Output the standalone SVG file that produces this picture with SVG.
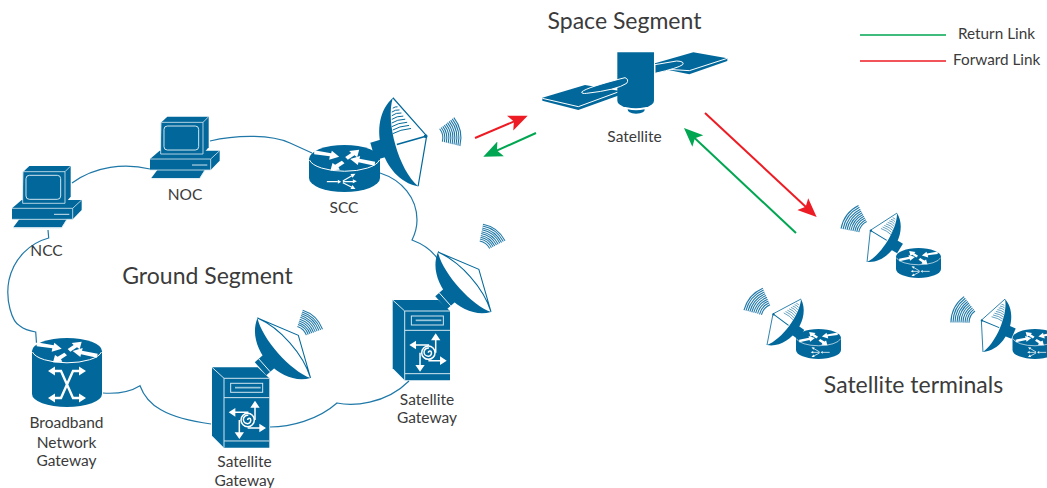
<svg xmlns="http://www.w3.org/2000/svg" xmlns:xlink="http://www.w3.org/1999/xlink" width="1047" height="488" viewBox="0 0 1047 488">
<style>
text{font-family:Lato,"Liberation Sans",sans-serif;fill:#3b3b3b;text-anchor:middle}
.lb{font-size:15.5px}.ti{font-size:23px}.lg{font-size:15.300px;text-anchor:start}
.bl{fill:#02689b}.wl{fill:none;stroke:#d3e6ef;stroke-width:3}.wf{fill:#fff}
.cloud{fill:none;stroke:#1f78a8;stroke-width:1.2}
.hl{fill:none;stroke:#02689b;stroke-width:1.200}
.red{stroke:#ed1c24;stroke-width:2;fill:none}.grn{stroke:#00a651;stroke-width:2;fill:none}
</style>
<defs>
<marker id="hr" markerUnits="userSpaceOnUse" markerWidth="22" markerHeight="22" refX="11" refY="10" orient="auto"><path d="M0,2 L19,10 L0,18 L4,10Z" fill="#ed1c24"/></marker>
<marker id="hg" markerUnits="userSpaceOnUse" markerWidth="22" markerHeight="22" refX="11" refY="10" orient="auto"><path d="M0,2 L19,10 L0,18 L4,10Z" fill="#00a651"/></marker>
<g id="wave" fill="none" stroke="#1f78a8" stroke-width="1.100">
<path d="M13.500,-6.600A15,15 0 0 1 13.500,6.600M15.300,-7.500A17,17 0 0 1 15.300,7.500M17.100,-8.300A19,19 0 0 1 17.100,8.300M18.900,-9.200A21,21 0 0 1 18.900,9.200M20.700,-10.100A23,23 0 0 1 20.700,10.100M22.500,-11A25,25 0 0 1 22.500,11M24.300,-11.800A27,27 0 0 1 24.300,11.800M26.100,-12.700A29,29 0 0 1 26.100,12.700M27.900,-13.600A31,31 0 0 1 27.900,13.600M29.700,-14.500A33,33 0 0 1 29.700,14.500"/>
</g>
<g id="dishA">
<rect class="bl" x="-34" y="-9" width="12" height="18"/>
<path class="bl" d="M0,-46C-33,-30 -33,30 0,46C-14,25 -14,-25 0,-46Z"/>
<path class="hl" d="M0,-46L22,0L0,46"/>
<path fill="none" stroke="#02689b" stroke-width=".9" d="M-3,-36Q0,-37 2,-36M-5,-32.500Q-1,-34 3,-32.500M-6,-29Q-1,-31 4,-29M-7,-25.500Q-1,-27.500 5,-25.500M-8,-22Q-2,-24 6,-22M-9,-18.500Q-2,-20.500 7,-18.500M-9,-15Q-2,-17 8,-15M-10,-11.500Q-2,-13.500 9,-11.500"/>
<path fill="none" stroke="#02689b" stroke-width="1.600" d="M22,0H-9"/>
<circle class="bl" cx="21" cy="0" r="1.800"/>
</g>
<g id="dishB">
<rect class="bl" x="-36" y="-10" width="14" height="20"/>
<path fill="none" stroke="#fff" stroke-width="1" d="M-30,-10V10"/>
<path class="bl" d="M0,-46C-33,-30 -33,30 0,46C-12,25 -12,-25 0,-46Z"/>
<path class="hl" d="M0,-46L22,0L0,46M0,-46C12,-20 12,20 0,46"/>
</g>
<g id="rtop" transform="scale(.3333)" class="wf">
<polygon points="-91,-26 -40,-17 -38,-25 -16,-7 -46,2 -44,-8 -91,-14"/>
<polygon points="44,-28 38,-5 30,-11 10,2 2,-6 20,-18 14,-24"/>
<polygon points="-42,34 -36,12 -28,17 -8,5 0,13 -18,25 -14,32"/>
<polygon points="17,0 47,-9 45,-1 92,8 90,20 42,10 40,18"/>
</g>
<g id="router">
<path class="bl" d="M-35.500,0A35.500,14 0 0 1 35.500,0V19A35.500,14 0 0 1 -35.500,19Z"/>
<path fill="none" stroke="#fff" stroke-width="1" d="M-35,1A35.500,13.500 0 0 0 35,1"/>
<use xlink:href="#rtop" href="#rtop"/>
<g transform="scale(.3333)">
<path fill="none" stroke="#fff" stroke-width="3.500" d="M-53,68H-20M-5,66L22,50M-5,68H26M-5,71L22,85"/>
<path class="wf" d="M-20,62L-10,68L-20,74ZM18,45L33,44L24,56ZM25,61L37,67L25,73ZM18,90L33,90L24,78Z"/>
</g>
</g>
<g id="pc" transform="scale(.3333)">
<path class="bl" d="M70,245L88,228H212V320L195,340H68Z"/>
<path class="bl" d="M36,355L65,330H245V360L218,388H36Z"/>
<path class="bl" d="M40,412L58,388H200L185,412Z"/>
<path fill="none" stroke="#d3e6ef" stroke-width="2.500" d="M70,245H195L212,228M195,245V340M68,245V340H195M36,355H218L245,330M218,355V388M36,388H218M40,414H185L200,390"/>
<rect x="78" y="256" width="104" height="72" rx="10" fill="none" stroke="#d3e6ef" stroke-width="3"/>
<path stroke="#d3e6ef" stroke-width="3" d="M162,373H208"/>
</g>
<g id="gw" transform="scale(.3333)">
<path class="bl" d="M-36,-33H101L136,0V208H0L-36,172Z"/>
<path fill="none" stroke="#d3e6ef" stroke-width="3" d="M-36,-33L0,0V208M0,0H136M0,58H136M0,188H136"/>
<rect x="20" y="15" width="96" height="27" fill="none" stroke="#d3e6ef" stroke-width="3"/>
<path stroke="#9cc6da" stroke-width="5" d="M33,28H110"/>
<g fill="none" stroke="#fff" stroke-width="4.500">
<path d="M93,85V125M30,102H71V106M46,165V125M110,149H71"/>
<circle cx="71" cy="125" r="20" fill="#02689b"/>
<path d="M71,125a5,5 0 0 1 8,-4a10,10 0 0 1 -8,15a13,13 0 0 1 -13,-13a13,13 0 0 1 15,-12"/>
</g>
<path class="wf" d="M93,67L107,88H79ZM14,102L34,89V115ZM46,182L32,162H60ZM126,149L106,136V162Z"/>
</g>
</defs>

<g id="connectors">
<path class="cloud" d="M48,230L48.700,238C30,243 14,258 9,280C5,300 12,322 20,326C25,330 30,331 35.700,332L36.500,343"/>
<path class="cloud" d="M72,183C95,166 125,163 150,169"/>
<path class="cloud" d="M210,141C235,135 270,134 290,143L312,153"/>
<path class="cloud" d="M380,173C402,180 417,198 417,220C417,228 415,234 412,240C420,243 430,248 437,258"/>
<path class="cloud" d="M103,393C118,394 130,392 140,385.700C147,405 165,418 211,424"/>
<path class="cloud" d="M270,427C290,427 318,420 337,403C352,406 385,405 409,381"/>
</g>

<g id="links">
<path class="red" d="M475,138L520.300,118.800" marker-end="url(#hr)"/>
<path class="grn" d="M536,133L490.600,153.400" marker-end="url(#hg)"/>
<path class="red" d="M705,113L810.800,211.600" marker-end="url(#hr)"/>
<path class="grn" d="M796,233L689.800,133.500" marker-end="url(#hg)"/>
</g>

<g id="legend">
<path d="M860,35H946" stroke="#00a651" stroke-width="1.500"/>
<path d="M860,61H946" stroke="#ed1c24" stroke-width="1.500"/>
<text class="lg" x="958" y="39">Return Link</text>
<text class="lg" x="953" y="65">Forward Link</text>
</g>

<g id="ncc"><use xlink:href="#pc" href="#pc" transform="translate(0,90)"/><text class="lb" x="46.500" y="256">NCC</text></g>
<g id="noc"><use xlink:href="#pc" href="#pc" transform="translate(138,40.700)"/><text class="lb" x="185" y="200">NOC</text></g>

<g id="scc">
<use xlink:href="#dishA" href="#dishA" transform="translate(405.500,142) rotate(-15.900)"/>
<use xlink:href="#router" href="#router" transform="translate(344.500,159)"/>
<use xlink:href="#wave" href="#wave" transform="translate(427.800,138) rotate(-12)"/>
<text class="lb" x="344" y="213">SCC</text>
</g>

<g id="satellite">
<g transform="translate(530,30) scale(.3333)">
<path class="bl" d="M37,203L165,165L270,183V195L145,240L37,212Z"/>
<path fill="none" stroke="#fff" stroke-width="3" d="M37,205L145,230L270,184"/>
<path class="bl" d="M375,100L490,67L592,85V93L478,133L375,112Z"/>
<path fill="none" stroke="#fff" stroke-width="3" d="M415,118L478,122L592,85"/>
<path class="bl" d="M262,67H372V212Q372,225 345,232Q317,238 290,232Q262,225 262,212Z"/>
<path class="bl" d="M293,238Q318,244 344,238Q346,250 318,251Q292,250 293,238Z"/>
<path class="bl" stroke="#fff" stroke-width="3" d="M155,186Q170,172 285,143Q298,148 290,160Q260,180 170,190Q155,192 155,186Z"/>
<path class="bl" stroke="#fff" stroke-width="3" d="M375,104L440,93Q465,94 458,104Q445,114 375,130Z"/>
</g>
<text class="lb" x="634.500" y="142">Satellite</text>
</g>

<g id="sg1">
<use xlink:href="#gw" href="#gw" transform="translate(404.700,311)"/>
<use xlink:href="#dishB" href="#dishB" transform="translate(464.500,282) rotate(-41.500) scale(.87)"/>
<use xlink:href="#wave" href="#wave" transform="translate(477,255) rotate(-53) scale(.95)"/>
<text class="lb" x="427" y="405">Satellite</text><text class="lb" x="427" y="423">Gateway</text>
</g>

<g id="sg2">
<use xlink:href="#gw" href="#gw" transform="translate(224,378.300)"/>
<use xlink:href="#dishB" href="#dishB" transform="translate(284,348) rotate(-41.500) scale(.87)"/>
<use xlink:href="#wave" href="#wave" transform="translate(293,340) rotate(-46) scale(.95)"/>
<text class="lb" x="244.500" y="467">Satellite</text><text class="lb" x="244.500" y="486">Gateway</text>
</g>

<g id="bng">
<path class="bl" d="M32,351A35,13 0 0 1 102,351V394A35,13 0 0 1 32,394Z"/>
<path fill="none" stroke="#fff" stroke-width="1" d="M32.500,352A35,13 0 0 0 101.500,352"/>
<use xlink:href="#rtop" href="#rtop" transform="translate(67,351)"/>
<path fill="none" stroke="#fff" stroke-width="2.400" d="M54,371H61L73,398H80M80,371H73L61,398H54"/>
<path class="wf" d="M48,371L55,366.500V375.500ZM86,371L79,366.500V375.500ZM48,398L55,393.500V402.500ZM86,398L79,393.500V402.500Z"/>
<text class="lb" x="66.500" y="428">Broadband</text><text class="lb" x="66.500" y="447.500">Network</text><text class="lb" x="66.500" y="466">Gateway</text>
</g>

<g id="terminal1">
<use xlink:href="#dishA" href="#dishA" transform="matrix(-.53,-.325,-.325,.53,882,237.500)"/>
<use xlink:href="#router" href="#router" transform="translate(918.500,257) scale(-.634,.634)"/>
<use xlink:href="#wave" href="#wave" transform="translate(873.500,235) rotate(217)"/>
</g>
<g id="terminal2">
<use xlink:href="#dishA" href="#dishA" transform="matrix(-.5,-.37,-.37,.5,784,322)"/>
<use xlink:href="#router" href="#router" transform="translate(818.500,338) scale(-.634,.634)"/>
<use xlink:href="#wave" href="#wave" transform="translate(776,318.500) rotate(220.500)"/>
</g>
<g id="terminal3">
<use xlink:href="#dishA" href="#dishA" transform="matrix(-.575,-.24,-.24,.575,994,325.500)"/>
<use xlink:href="#router" href="#router" transform="translate(1035,338) scale(-.634,.634)"/>
<use xlink:href="#wave" href="#wave" transform="translate(984,323) rotate(207)"/>
</g>

<g id="titles">
<text class="ti" x="624.500" y="29">Space Segment</text>
<text class="ti" x="207.500" y="284">Ground Segment</text>
<text class="ti" x="913.500" y="393">Satellite terminals</text>
</g>
</svg>
